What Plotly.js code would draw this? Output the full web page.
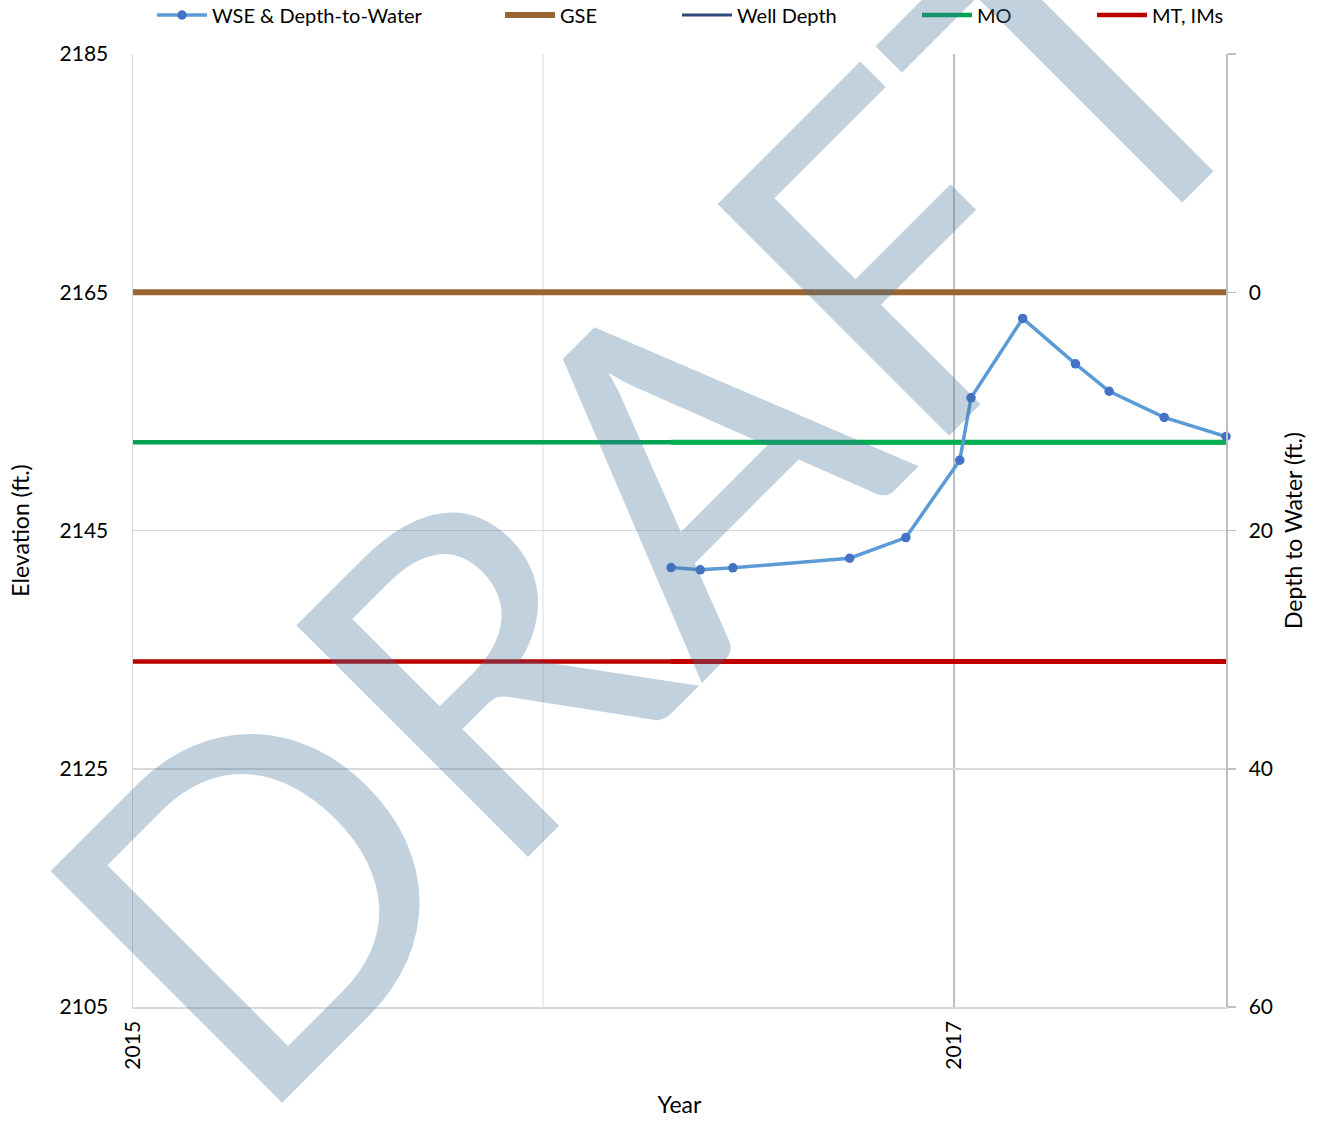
<!DOCTYPE html>
<html>
<head>
<meta charset="utf-8">
<script src="https://cdn.plot.ly/plotly-3.0.1.min.js"></script>
<style>html,body{margin:0;padding:0;background:#fff;}#chart{width:1323px;height:1122px;}</style>
</head>
<body>
<div id="chart"></div>
<script>
// ---- data ----
const sampleDates = ['2016-04-24','2016-05-20','2016-06-18','2016-09-30','2016-11-19','2017-01-06','2017-01-16','2017-03-03','2017-04-19','2017-05-19','2017-07-07','2017-08-31'];
const wseValues = [2141.89,2141.70,2141.87,2142.67,2144.41,2150.90,2156.14,2162.80,2158.99,2156.69,2154.49,2152.89];
const axisDates = ['2015-01-01','2017-08-31'];
const gseValue = 2165;
const moValue = 2152.4;
const mtValue = 2134.0;
const wellDepthDates = [null];
const wellDepthValues = [null];
const xTickVals = ['2015-01-01','2017-01-01'];
const xTickText = ['2015','2017'];
const xMinorVals = ['2016-01-01'];
const yTickVals = [2105,2125,2145,2165,2185];
const y2TickVals = [-20,0,20,40,60];
const y2TickText = ['','0','20','40','60'];
const watermarkText = 'DRAFT';

const FONT = 'Lato, "Open Sans", sans-serif';
const firstDate = sampleDates[0], lastDate = sampleDates[sampleDates.length-1];

const traces = [
  {x: axisDates, y: axisDates.map(()=>gseValue), type:'scatter', mode:'lines', name:'GSE',
   line:{color:'#996633', width:6}, legend:'legend2', hoverinfo:'skip'},
  {x: wellDepthDates, y: wellDepthValues, type:'scatter', mode:'lines', name:'Well Depth',
   line:{color:'#2F4A7A', width:3}, legend:'legend3', yaxis:'y2'},
  {x: axisDates, y: axisDates.map(()=>moValue), type:'scatter', mode:'lines', name:'MO',
   line:{color:'#00A352', width:4.5}, legend:'legend4'},
  {x: [firstDate,lastDate], y: [moValue,moValue], type:'scatter', mode:'lines', name:'MO',
   line:{color:'#00B050', width:5}, showlegend:false},
  {x: axisDates, y: axisDates.map(()=>mtValue), type:'scatter', mode:'lines', name:'MT, IMs',
   line:{color:'#BC0000', width:4.5}, legend:'legend5'},
  {x: [firstDate,lastDate], y: [mtValue,mtValue], type:'scatter', mode:'lines', name:'MT, IMs',
   line:{color:'#C00000', width:5}, showlegend:false},
  {x: sampleDates, y: wseValues, type:'scatter', mode:'lines+markers', name:'WSE & Depth-to-Water',
   line:{color:'#5B9BD5', width:3.5}, marker:{color:'#4472C4', size:9.5}, legend:'legend', cliponaxis:false}
];

function leg(xpx){
  return {x:(xpx-133)/1093, y:1+(54-15)/953, xanchor:'left', yanchor:'middle', orientation:'h',
          bgcolor:'rgba(0,0,0,0)', borderwidth:0, font:{family:FONT, size:20, color:'#000'}, itemwidth:50};
}

const layout = {
  width:1323, height:1122,
  margin:{l:133, r:97, t:54, b:115, autoexpand:false},
  paper_bgcolor:'#fff', plot_bgcolor:'#fff',
  font:{family:FONT, size:21, color:'#000'},
  showlegend:true,
  legend: leg(152), legend2: leg(500), legend3: leg(677), legend4: leg(917), legend5: leg(1092),
  xaxis:{type:'date', range:axisDates, tickmode:'array', tickvals:xTickVals, ticktext:xTickText,
         tickangle:-90, ticklabelstandoff:4, showgrid:true, gridcolor:'#BFBFBF', gridwidth:1.5,
         minor:{tickmode:'array', tickvals:xMinorVals, showgrid:true, gridcolor:'#EDEDED', gridwidth:1.5, ticks:''},
         showline:true, linecolor:'#D9D9D9', linewidth:1.5, ticks:'', zeroline:false,
         title:{text:'Year', font:{family:FONT, size:23}, standoff:28}, automargin:false},
  yaxis:{range:[2105,2185], tickmode:'array', tickvals:yTickVals, ticklabelstandoff:19,
         showgrid:true, gridcolor:'#D9D9D9', gridwidth:1.5,
         showline:true, linecolor:'#D9D9D9', linewidth:1.5, ticks:'', zeroline:false,
         title:{text:'Elevation (ft.)', font:{family:FONT, size:23}, standoff:23}, automargin:false},
  yaxis2:{overlaying:'y', side:'right', range:[60,-20], tickmode:'array', tickvals:y2TickVals, ticktext:y2TickText,
          ticklabelstandoff:9, showgrid:false, zeroline:false, showline:true, linecolor:'#BFBFBF', linewidth:1.5,
          ticks:'outside', ticklen:8, tickcolor:'#BFBFBF', tickwidth:1.5,
          title:{text:'Depth to Water (ft.)', font:{family:FONT, size:23}, standoff:14}, automargin:false},
  annotations:[{xref:'paper', yref:'paper', x:(647.5-133)/1093, y:1-(487-54)/953, xanchor:'center', yanchor:'middle',
                text:watermarkText, showarrow:false, textangle:-45,
                font:{family:FONT, size:457, color:'rgba(68,114,156,0.33)'}}]
};

Plotly.newPlot('chart', traces, layout, {displayModeBar:false, staticPlot:true});
</script>
</body>
</html>
